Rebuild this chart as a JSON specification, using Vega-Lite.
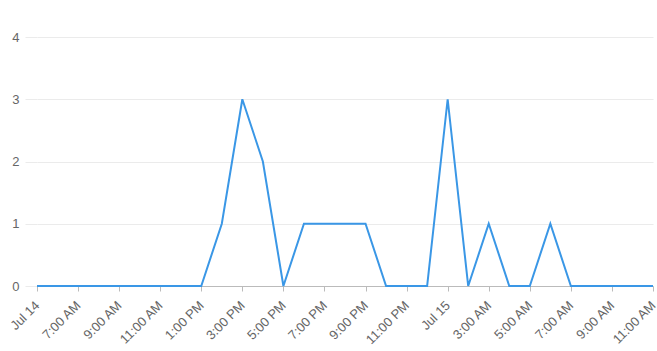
{
  "$schema": "https://vega.github.io/schema/vega-lite/v6.json",
  "width": 616,
  "height": 249,
  "autosize": {"type": "none"},
  "padding": {"left": 37, "top": 37, "right": 4, "bottom": 65},
  "background": "white",
  "config": {"view": {"stroke": null}, "font": "Liberation Sans"},
  "data": {"values": [
    {"t": "2024-07-14T05:00:00Z", "v": 0},
    {"t": "2024-07-14T06:00:00Z", "v": 0},
    {"t": "2024-07-14T07:00:00Z", "v": 0},
    {"t": "2024-07-14T08:00:00Z", "v": 0},
    {"t": "2024-07-14T09:00:00Z", "v": 0},
    {"t": "2024-07-14T10:00:00Z", "v": 0},
    {"t": "2024-07-14T11:00:00Z", "v": 0},
    {"t": "2024-07-14T12:00:00Z", "v": 0},
    {"t": "2024-07-14T13:00:00Z", "v": 0},
    {"t": "2024-07-14T14:00:00Z", "v": 1},
    {"t": "2024-07-14T15:00:00Z", "v": 3},
    {"t": "2024-07-14T16:00:00Z", "v": 2},
    {"t": "2024-07-14T17:00:00Z", "v": 0},
    {"t": "2024-07-14T18:00:00Z", "v": 1},
    {"t": "2024-07-14T19:00:00Z", "v": 1},
    {"t": "2024-07-14T20:00:00Z", "v": 1},
    {"t": "2024-07-14T21:00:00Z", "v": 1},
    {"t": "2024-07-14T22:00:00Z", "v": 0},
    {"t": "2024-07-14T23:00:00Z", "v": 0},
    {"t": "2024-07-15T00:00:00Z", "v": 0},
    {"t": "2024-07-15T01:00:00Z", "v": 3},
    {"t": "2024-07-15T02:00:00Z", "v": 0},
    {"t": "2024-07-15T03:00:00Z", "v": 1},
    {"t": "2024-07-15T04:00:00Z", "v": 0},
    {"t": "2024-07-15T05:00:00Z", "v": 0},
    {"t": "2024-07-15T06:00:00Z", "v": 1},
    {"t": "2024-07-15T07:00:00Z", "v": 0},
    {"t": "2024-07-15T08:00:00Z", "v": 0},
    {"t": "2024-07-15T09:00:00Z", "v": 0},
    {"t": "2024-07-15T10:00:00Z", "v": 0},
    {"t": "2024-07-15T11:00:00Z", "v": 0}
  ]},
  "mark": {"type": "line", "color": "#3a97e6", "strokeWidth": 2, "clip": false},
  "encoding": {
    "x": {
      "field": "t", "type": "temporal",
      "scale": {"type": "utc", "nice": false},
      "axis": {
        "title": null,
        "grid": false,
        "values": [
          {"year": 2024, "month": 7, "date": 14, "hours": 5, "utc": true},
          {"year": 2024, "month": 7, "date": 14, "hours": 7, "utc": true},
          {"year": 2024, "month": 7, "date": 14, "hours": 9, "utc": true},
          {"year": 2024, "month": 7, "date": 14, "hours": 11, "utc": true},
          {"year": 2024, "month": 7, "date": 14, "hours": 13, "utc": true},
          {"year": 2024, "month": 7, "date": 14, "hours": 15, "utc": true},
          {"year": 2024, "month": 7, "date": 14, "hours": 17, "utc": true},
          {"year": 2024, "month": 7, "date": 14, "hours": 19, "utc": true},
          {"year": 2024, "month": 7, "date": 14, "hours": 21, "utc": true},
          {"year": 2024, "month": 7, "date": 14, "hours": 23, "utc": true},
          {"year": 2024, "month": 7, "date": 15, "hours": 1, "utc": true},
          {"year": 2024, "month": 7, "date": 15, "hours": 3, "utc": true},
          {"year": 2024, "month": 7, "date": 15, "hours": 5, "utc": true},
          {"year": 2024, "month": 7, "date": 15, "hours": 7, "utc": true},
          {"year": 2024, "month": 7, "date": 15, "hours": 9, "utc": true},
          {"year": 2024, "month": 7, "date": 15, "hours": 11, "utc": true}
        ],
        "labelExpr": "utcdate(datum.value) == 14 && utchours(datum.value) == 5 ? 'Jul 14' : (utchours(datum.value) == 1 ? 'Jul 15' : utcFormat(datum.value, '%-I:%M %p'))",
        "labelAngle": -45,
        "labelAlign": "right",
        "labelBaseline": "middle",
        "labelPadding": 12,
        "labelFontSize": 13,
        "labelColor": "#666666",
        "labelOverlap": false,
        "labelFlush": false,
        "domainColor": "#bbbbbb",
        "tickColor": "#bbbbbb",
        "tickSize": 5
      }
    },
    "y": {
      "field": "v", "type": "quantitative",
      "scale": {"domain": [0, 4], "nice": false},
      "axis": {
        "title": null,
        "values": [0, 1, 2, 3, 4],
        "domain": false,
        "gridColor": "#ebebeb",
        "tickColor": "#ebebeb",
        "tickSize": 12,
        "labelPadding": 6,
        "labelFontSize": 13,
        "labelColor": "#666666"
      }
    }
  }
}
